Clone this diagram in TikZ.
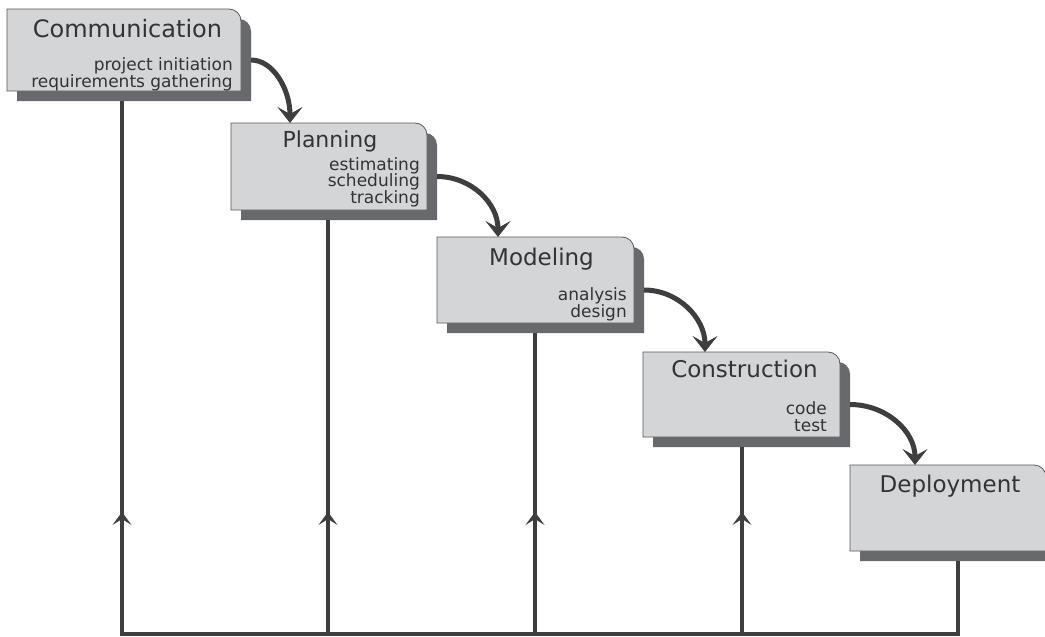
\documentclass[tikz,border=0pt]{standalone}
\usepackage{fontspec}
\setmainfont{DejaVu Sans}
\usetikzlibrary{arrows.meta,calc}

\definecolor{boxfill}{HTML}{D4D5D7}
\definecolor{boxshadow}{HTML}{68696C}
\definecolor{boxedge}{HTML}{58585A}
\definecolor{flowline}{HTML}{3E3E40}
\definecolor{labeltext}{HTML}{333333}

\tikzset{
  frame/.style={inner sep=0pt, outer sep=0pt, draw=none, anchor=north west},
  stagetitle/.style={anchor=base, text=labeltext, inner sep=0pt,
    font=\fontsize{23}{27}\selectfont},
  stagetasks/.style={anchor=base east, align=right, text=labeltext, inner sep=0pt,
    font=\fontsize{17}{16.5}\selectfont},
  flow/.style={draw=flowline, line width=5pt,
    -{Stealth[length=16pt, width=25pt, inset=7pt]}},
  feedback/.style={draw=flowline, line width=4pt, line join=miter},
  backtip/.style={draw=flowline, line width=4pt,
    -{Stealth[length=13pt, width=19pt, inset=6pt]}},
}

% outline of a box whose top right corner is rounded
\newcommand\stageshape[2]{%
  \path[#1] (#2.south west) -- (#2.north west)
    -- ($(#2.north east)+(-12,0)$) arc[start angle=-90, end angle=0, radius=12]
    -- (#2.south east) -- cycle;}

% a stage box with its drop shadow: name, left, top, width, height
\newcommand\stage[5]{%
  \node[frame, minimum width=#4pt, minimum height=#5pt] (#1-shadow) at (#2+10,#3+10) {};
  \node[frame, minimum width=#4pt, minimum height=#5pt] (#1) at (#2,#3) {};
  \stageshape{fill=boxshadow}{#1-shadow}
  \stageshape{fill=boxfill, draw=boxedge, line width=0.8pt}{#1}}

\begin{document}
\begin{tikzpicture}[x=1pt, y=-1pt]
  \useasboundingbox (0,0) rectangle (1045,637);
  \clip (0,0) rectangle (1045,637);

  % stage boxes
  \stage{comm}{7}{9}{234}{82}
  \stage{plan}{231}{123}{196}{87}
  \stage{model}{437}{237}{197}{86}
  \stage{constr}{643}{352}{197}{85}
  \stage{deploy}{850}{465}{196}{86}

  % titles
  \node[stagetitle, font=\fontsize{24}{28}\selectfont] (comm-title) at (127.5,37) {Communication};
  \node[stagetitle, font=\fontsize{22}{26}\selectfont] (plan-title) at (330,147) {Planning};
  \node[stagetitle] (model-title)  at (541.5,265) {Modeling};
  \node[stagetitle] (constr-title) at (744.5,377) {Construction};
  \node[stagetitle] (deploy-title) at (950,492)  {Deployment};

  % tasks of each stage (anchored at the baseline of the last line)
  \node[stagetasks] (comm-tasks)   at (233,87)  {project initiation\\requirements gathering};
  \node[stagetasks] (plan-tasks)   at (420,203) {estimating\\scheduling\\tracking};
  \node[stagetasks] (model-tasks)  at (627,317) {analysis\\design};
  \node[stagetasks] (constr-tasks) at (827,431) {code\\test};

  % forward flow between stages
  \draw[flow] (comm-shadow.east)
    .. controls +(22,0) and +(0,-34) .. ($(plan.north west)+(59,0)$);
  \draw[flow] (plan-shadow.east)
    .. controls +(34,0) and +(0,-34) .. ($(model.north west)+(61,0)$);
  \draw[flow] (model-shadow.east)
    .. controls +(34,0) and +(0,-34) .. ($(constr.north west)+(62,0)$);
  \draw[flow] (constr-shadow.east)
    .. controls +(36,0) and +(0,-34) .. ($(deploy.north west)+(65,0)$);

  % feedback paths along the bottom
  \coordinate (r1) at (122,634);
  \coordinate (r2) at (328,634);
  \coordinate (r3) at (535,634);
  \coordinate (r4) at (742,634);
  \coordinate (t1) at (122,512);
  \coordinate (t2) at (328,512);
  \coordinate (t3) at (535,512);
  \coordinate (t4) at (742,512);

  \draw[feedback] (deploy-shadow.south) |- (r1) -- (r1 |- comm-shadow.south);
  \draw[feedback] (r2) -- (r2 |- plan-shadow.south);
  \draw[feedback] (r3) -- (r3 |- model-shadow.south);
  \draw[feedback] (r4) -- (r4 |- constr-shadow.south);

  \draw[backtip] (r1) -- (t1);
  \draw[backtip] (r2) -- (t2);
  \draw[backtip] (r3) -- (t3);
  \draw[backtip] (r4) -- (t4);
\end{tikzpicture}
\end{document}
